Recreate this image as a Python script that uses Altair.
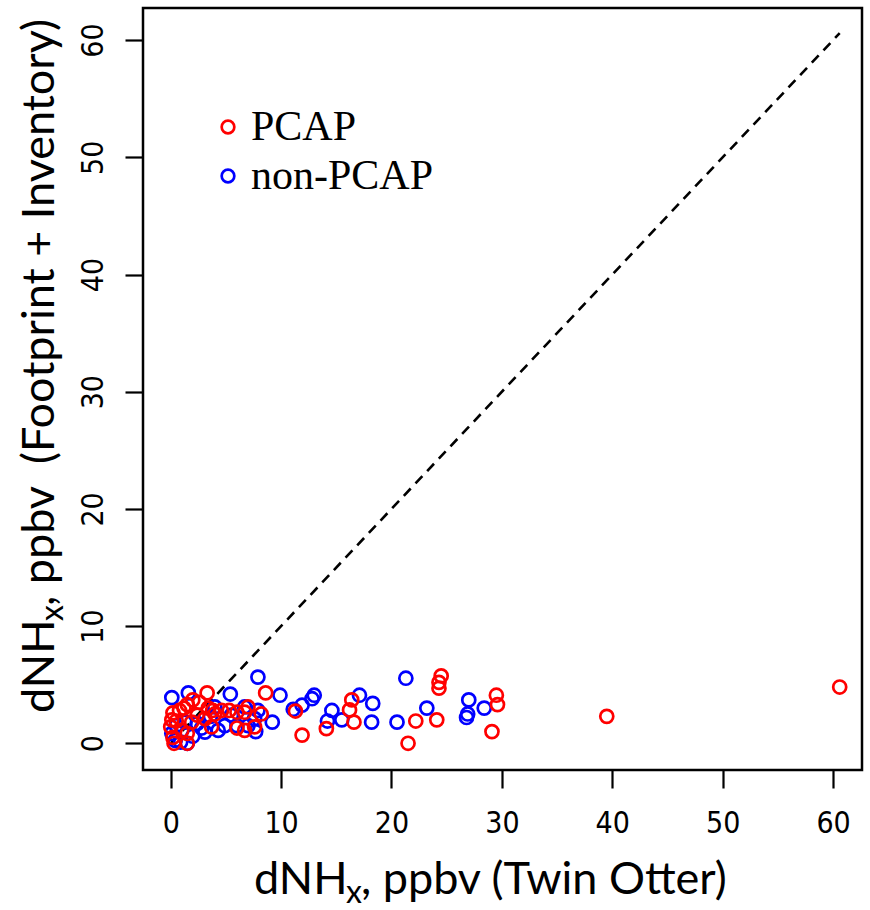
import altair as alt
import pandas as pd

# ---- data ----
non_x = [0.1, 1.6, 5.4, 7.9, 9.9, 11.1, 11.9, 12.8, 13.0, 14.6, 14.2, 15.5, 17.1, 18.3, 18.2,
         20.5, 21.3, 23.2, 27.0, 26.9, 26.8, 28.4, 4.0, 6.7, 7.6, 7.0, 4.9, 2.4, 0.4, 1.5,
         0.1, 3.1, 1.3, 4.3, 9.2, 7.9, 6.0, 7.7, 0.9, 2.8, 3.6, 5.5, 0.5, 2.0]
non_y = [3.9, 4.3, 4.2, 5.65, 4.1, 2.9, 3.25, 3.8, 4.1, 2.8, 1.9, 2.0, 4.1, 3.4, 1.8,
         1.8, 5.55, 3.0, 3.7, 2.5, 2.2, 3.0, 3.1, 3.1, 2.1, 1.5, 1.5, 1.7, 0.25, 0.0,
         0.85, 0.95, 1.8, 1.1, 1.8, 2.8, 1.5, 1.0, 0.1, 1.3, 2.3, 2.4, 1.5, 0.6]

pcap_x = [3.3, 8.6, 8.2, 11.3, 11.9, 14.1, 16.4, 16.2, 16.6, 21.5, 22.2, 24.1, 24.5, 24.3,
          24.3, 29.5, 29.6, 29.1, 39.5, 60.6, 2.0, 1.5, 0.8, 0.2, 0.1, 0.0, 0.2, 0.3, 1.5,
          1.5, 2.6, 3.7, 3.8, 4.6, 5.3, 6.0, 6.7, 7.0, 6.0, 6.7, 2.4, 1.9, 1.0, 3.1, 7.6,
          3.4, 1.2, 0.5, 4.0]
pcap_y = [4.3, 4.3, 2.5, 2.75, 0.7, 1.25, 3.7, 2.85, 1.8, 0.0, 1.9, 2.0, 5.75, 5.2,
          4.7, 4.1, 3.3, 1.0, 2.3, 4.8, 3.7, 3.3, 2.8, 2.6, 2.0, 1.4, 0.5, 0.0, 0.0,
          0.85, 3.5, 1.4, 2.8, 2.8, 2.8, 2.65, 2.65, 3.1, 1.3, 1.1, 2.4, 1.8, 1.1, 2.1, 1.4,
          3.0, 3.0, 1.9, 2.5]

groups = ["PCAP", "non-PCAP"]
colors = ["#FF0000", "#0000FF"]
line_ends = [0, 60.6]
ticks = [0, 10, 20, 30, 40, 50, 60]

df = pd.DataFrame({
    "x": non_x + pcap_x,
    "y": non_y + pcap_y,
    "grp": ["non-PCAP"] * len(non_x) + ["PCAP"] * len(pcap_x),
})
df_line = pd.DataFrame({"x": line_ends, "y": line_ends})

W, H = 719, 762
xs = alt.Scale(domain=[-2.51, 62.62], nice=False, zero=False)
ys = alt.Scale(domain=[-2.28, 62.74], nice=False, zero=False)

TICKFONT = "Liberation Sans Narrow, Arial Narrow, DejaVu Sans Condensed, Liberation Sans, sans-serif"
axis_common = dict(values=ticks, grid=False, domain=False, tickColor="black", tickWidth=2.2,
                   tickSize=18, labelColor="black", labelFont=TICKFONT,
                   labelFontSize=30, title=None)

line = alt.Chart(df_line).mark_line(color="black", strokeWidth=2.6, strokeDash=[10, 7]).encode(
    x=alt.X("x:Q", scale=xs, axis=alt.Axis(labelPadding=20, **axis_common)),
    y=alt.Y("y:Q", scale=ys, axis=alt.Axis(labelAngle=270, labelAlign="center",
                                           labelBaseline="alphabetic", labelPadding=23,
                                           **axis_common)),
)

points = alt.Chart(df).mark_point(shape="circle", filled=False, strokeWidth=2.7, size=170,
                                  opacity=1).encode(
    x=alt.X("x:Q", scale=xs),
    y=alt.Y("y:Q", scale=ys),
    color=alt.Color("grp:N", scale=alt.Scale(domain=groups, range=colors),
                    legend=alt.Legend(title=None, orient="none", legendX=64, legendY=98,
                                      labelFont="Liberation Serif", labelFontSize=42,
                                      labelColor="black", symbolSize=160, labelLimit=400,
                                      symbolStrokeWidth=2.7, symbolType="circle",
                                      labelOffset=2, rowPadding=7, padding=0)),
    order=alt.Order("idx:Q"),
).transform_window(idx="row_number()")

one = pd.DataFrame({"a": [0]})
FONT = "Lato"
FS = 45
SFS = 32

def txt(text, x, y, size, angle=0, align="left"):
    return alt.Chart(one).mark_text(text=text, font=FONT, fontSize=size, color="black",
                                    align=align, baseline="alphabetic", angle=angle).encode(
        x=alt.value(x), y=alt.value(y))

# x-axis title (with subscript)
xt0 = 254 - 143
xb = 894 - 8
w1 = 92
wx = 15
xtitle = [txt("dNH", xt0, xb, FS), txt("x", xt0 + w1, xb + 9, SFS),
          txt(", ppbv (Twin Otter)", xt0 + w1 + wx, xb, FS)]

# y-axis title (rotated, with subscript)
yt0 = 713 - 8
ybx = 54 - 143
ytitle = [txt("dNH", ybx, yt0, FS, angle=270), txt("x", ybx + 9, yt0 - w1, SFS, angle=270),
          txt(", ppbv\u00a0\u00a0(Footprint + Inventory)", ybx, yt0 - w1 - wx, FS, angle=270)]

chart = alt.layer(line, points, *xtitle, *ytitle).properties(
    width=W, height=H,
    padding={"left": 143, "top": 8, "right": 8, "bottom": 140},
    autosize=alt.AutoSizeParams(type="none"),
    background="white",
).configure_view(stroke="black", strokeWidth=2.5)

chart.save("out.html", embed_options={"renderer": "svg", "actions": False})
